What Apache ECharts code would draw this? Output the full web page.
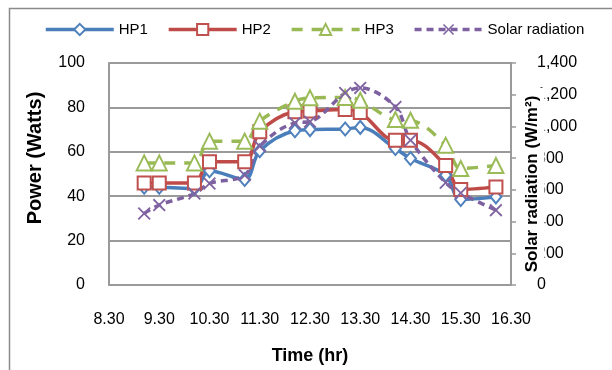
<!DOCTYPE html>
<html>
<head>
<meta charset="utf-8">
<script src="https://cdn.jsdelivr.net/npm/echarts@6/dist/echarts.min.js"></script>
<style>
  html, body { margin: 0; padding: 0; background: #fff; }
  #chart { width: 612px; height: 370px; }
</style>
</head>
<body>
<div id="chart"></div>
<script>
  // time of day (hr, written as h.mm)
  const times = [9.0, 9.3, 10.0, 10.3, 11.0, 11.3, 12.0, 12.3, 13.0, 13.3, 14.0, 14.3, 15.0, 15.3, 16.0];
  // power, W
  const hp1 = [44, 44, 43.5, 51.5, 47.5, 60.5, 69.5, 70, 70.3, 71, 61.5, 57, 49.5, 38.5, 39.7];
  const hp2 = [46, 46, 46, 55.5, 55.5, 69, 78, 78.4, 79, 77.7, 65.2, 65.2, 53.8, 43, 44.2];
  const hp3 = [55, 55, 55, 64.8, 64.8, 73.8, 82.8, 84.3, 84.5, 83.2, 74.5, 74.2, 63, 52.5, 53.8];
  // solar radiation, W/m2
  const solar = [451, 504, 577, 640, 693, 875, 1022, 1030, 1211, 1243, 1123, 913, 645, 580, 472];

  const font = 'Liberation Sans, Arial, sans-serif';
  const gridColor = '#9a9a9a';
  const xMark = 'path://M1,0 L5,4 L9,0 L10,1 L6,5 L10,9 L9,10 L5,6 L1,10 L0,9 L4,5 L0,1 Z';

  function pairs(ys) {
    return times.map((t, i) => [t, ys[i]]);
  }
  function withComma(v) {
    return String(v).replace(/\B(?=(\d{3})+(?!\d))/g, ',');
  }

  const chart = echarts.init(document.getElementById('chart'));
  chart.setOption({
    animation: false,
    textStyle: { fontFamily: font, color: '#000' },
    graphic: [{
      type: 'rect',
      shape: { x: 9.5, y: 8.5, width: 800, height: 600 },
      style: { fill: 'none', stroke: '#8a8a8a', lineWidth: 1.5 },
      silent: true
    }, {
      // right axis title, sits over the tick labels like in the original
      type: 'text',
      x: 532,
      y: 180,
      rotation: Math.PI / 2,
      z: 100,
      silent: true,
      style: {
        text: 'Solar radiation (W/m²)',
        font: 'bold 17px ' + font,
        fill: '#000',
        align: 'center',
        verticalAlign: 'middle',
        lineHeight: 20,
        backgroundColor: '#fff',
        padding: [2, 8, 3, 0]
      }
    }],
    legend: {
      left: 39,
      top: 17,
      itemWidth: 68,
      itemHeight: 14,
      itemGap: 19,
      lineStyle: { width: 3.5 },
      textStyle: { fontSize: 15, color: '#000', fontFamily: font },
      data: ['HP1', 'HP2', 'HP3', 'Solar radiation']
    },
    grid: { left: 109, right: 101, top: 63, bottom: 85 },
    xAxis: {
      type: 'value',
      min: 8.3,
      max: 16.3,
      interval: 1,
      name: 'Time (hr)',
      nameLocation: 'middle',
      nameGap: 62,
      nameTextStyle: { fontSize: 18, fontWeight: 'bold', fontFamily: font },
      axisLine: { show: true, onZero: false, lineStyle: { color: gridColor, width: 2 } },
      axisTick: { show: false },
      splitLine: { show: false },
      axisLabel: {
        margin: 27,
        fontSize: 16,
        color: '#000',
        formatter: v => v.toFixed(2)
      }
    },
    yAxis: [{
      type: 'value',
      min: 0,
      max: 100,
      interval: 20,
      name: 'Power (Watts)',
      nameLocation: 'middle',
      nameGap: 64,
      nameMoveOverlap: false,
      nameTextStyle: { fontSize: 20, fontWeight: 'bold', fontFamily: font, padding: [0, 0, 0, 32] },
      axisLine: { show: true, lineStyle: { color: gridColor, width: 2 } },
      axisTick: { show: false },
      splitLine: { lineStyle: { color: gridColor, width: 2 } },
      axisLabel: { margin: 24, fontSize: 16, color: '#000' }
    }, {
      type: 'value',
      min: 0,
      max: 1400,
      interval: 200,
      position: 'right',
      axisLine: { show: true, lineStyle: { color: gridColor, width: 2 } },
      axisTick: { show: true, inside: false, length: 5, lineStyle: { color: gridColor, width: 1.5 } },
      splitLine: { show: false },
      axisLabel: { margin: 26, fontSize: 16, color: '#000', formatter: withComma }
    }],
    series: [{
      name: 'HP1',
      type: 'line',
      smooth: 0.35,
      data: pairs(hp1),
      symbol: 'emptyDiamond',
      symbolSize: [11, 13],
      color: '#4F81BD',
      lineStyle: { width: 3.5, color: '#4A7EBB' },
      itemStyle: { color: '#4F81BD', borderWidth: 1.5 }
    }, {
      name: 'HP2',
      type: 'line',
      smooth: 0.35,
      data: pairs(hp2),
      symbol: 'emptyRect',
      symbolSize: 13,
      color: '#C0504D',
      lineStyle: { width: 3.5, color: '#BE4B48' },
      itemStyle: { color: '#C0504D', borderWidth: 1.5 }
    }, {
      name: 'HP3',
      type: 'line',
      smooth: 0.35,
      data: pairs(hp3),
      symbol: 'emptyTriangle',
      symbolSize: 15,
      color: '#9BBB59',
      lineStyle: { width: 3.5, color: '#98B954', type: [11, 9] },
      itemStyle: { color: '#9BBB59', borderWidth: 1.5 }
    }, {
      name: 'Solar radiation',
      type: 'line',
      yAxisIndex: 1,
      smooth: 0.35,
      data: pairs(solar),
      symbol: xMark,
      symbolSize: 13,
      color: '#8064A2',
      lineStyle: { width: 3.5, color: '#7D60A0', type: [7, 5] },
      itemStyle: { color: '#8064A2' }
    }]
  });
</script>
</body>
</html>
